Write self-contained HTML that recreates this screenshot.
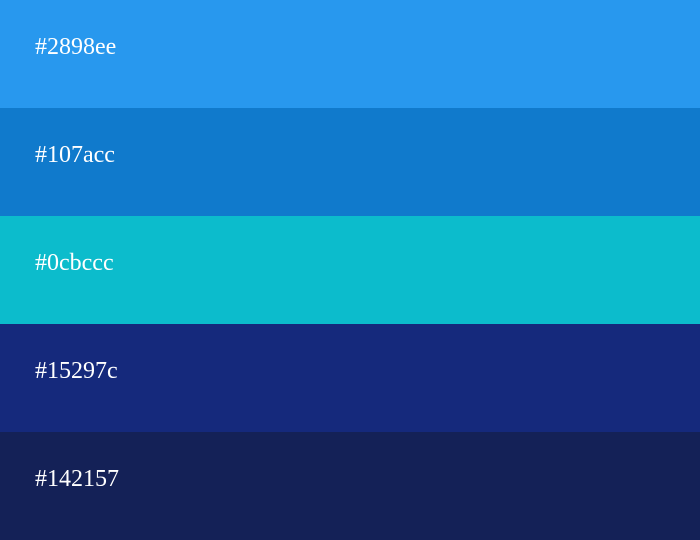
<!DOCTYPE html>
<html><head><meta charset="utf-8"><style>
html,body{margin:0;padding:0;width:700px;height:540px;overflow:hidden}
.band{position:relative;width:700px;height:108px}
.band span{position:absolute;left:35px;top:35px;line-height:24px;font-family:"Liberation Serif",serif;font-size:24px;color:#fff}
</style></head><body>
<div class="band" style="background:#2898ee"><span>#2898ee</span></div>
<div class="band" style="background:#107acc"><span>#107acc</span></div>
<div class="band" style="background:#0cbccc"><span>#0cbccc</span></div>
<div class="band" style="background:#15297c"><span>#15297c</span></div>
<div class="band" style="background:#142157"><span>#142157</span></div>
</body></html>
